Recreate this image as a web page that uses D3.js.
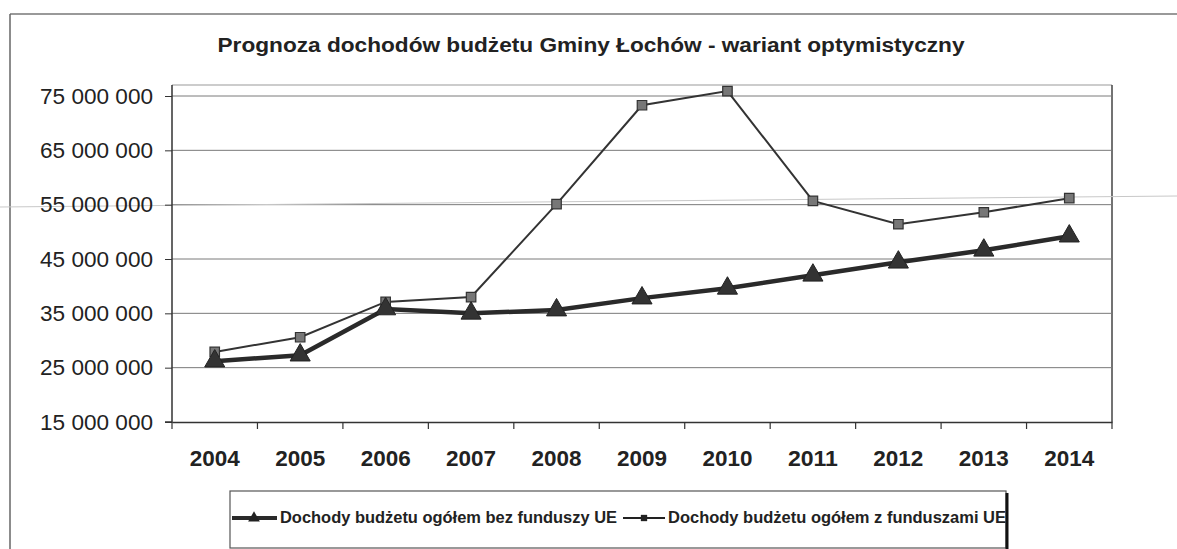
<!DOCTYPE html>
<html><head><meta charset="utf-8">
<script src="https://cdn.jsdelivr.net/npm/d3@7"></script>
<style>html,body{margin:0;padding:0;background:#fff;}</style>
</head><body>
<svg id="c" width="1177" height="549"></svg>
<script>
const years = ["2004","2005","2006","2007","2008","2009","2010","2011","2012","2013","2014"];
const bezFunduszy = [26200000,27300000,35800000,35000000,35600000,37800000,39600000,42000000,44400000,46600000,49200000];
const zFunduszami = [27900000,30600000,37100000,38000000,55100000,73300000,75900000,55700000,51400000,53600000,56200000];
const yTicks = [15000000,25000000,35000000,45000000,55000000,65000000,75000000];
const seriesNames = ["Dochody budżetu ogółem bez funduszy UE","Dochody budżetu ogółem z funduszami UE"];
const title = "Prognoza dochodów budżetu Gminy Łochów - wariant optymistyczny";

const svg = d3.select("#c");
const font = "Liberation Sans, Arial, sans-serif";
const L = 172, R = 1112, T = 85, B = 422;

const x = d3.scaleBand().domain(years).range([L, R]).padding(0);
const y = d3.scaleLinear().domain([15000000, 75000000]).range([B, 96]);
const cx = d => x(d) + x.bandwidth()/2;
const fmt = v => d3.format(",")(v).replace(/,/g, " ");

// outer chart border
svg.append("line").attr("x1",10).attr("y1",14).attr("x2",1177).attr("y2",14).attr("stroke","#777").attr("stroke-width",1.5);
svg.append("line").attr("x1",10).attr("y1",14).attr("x2",10).attr("y2",549).attr("stroke","#666").attr("stroke-width",1.5);

// title
svg.append("text").attr("x",591).attr("y",52).attr("text-anchor","middle")
  .attr("font-family",font).attr("font-weight","bold").attr("font-size",20).attr("fill","#222")
  .attr("textLength",747).attr("lengthAdjust","spacingAndGlyphs").text(title);

// plot border top / right
svg.append("line").attr("x1",L).attr("y1",T).attr("x2",R).attr("y2",T).attr("stroke","#999").attr("stroke-width",1);
svg.append("line").attr("x1",R).attr("y1",T).attr("x2",R).attr("y2",B).attr("stroke","#444").attr("stroke-width",1.5);

// gridlines
svg.append("g").selectAll("line").data(yTicks.filter(t=>t>15000000)).join("line")
  .attr("x1",L).attr("x2",R).attr("y1",d=>y(d)).attr("y2",d=>y(d))
  .attr("stroke","#7a7a7a").attr("stroke-width",1);

// scan artifact faint line
svg.append("line").attr("x1",0).attr("y1",207).attr("x2",1177).attr("y2",196).attr("stroke","#c8c8c8").attr("stroke-width",1);

// y axis
const yAxis = svg.append("g").attr("transform",`translate(${L},0)`)
  .call(d3.axisLeft(y).tickValues(yTicks).tickFormat(fmt).tickSize(7).tickPadding(12));
yAxis.select(".domain").attr("stroke","#333").attr("stroke-width",1.5).attr("d",`M-7,${B}H0V${T}`);
yAxis.selectAll(".tick line").attr("stroke","#333");
yAxis.selectAll("text").attr("font-family",font).attr("font-size",22).attr("fill","#222")
  .attr("textLength",113).attr("lengthAdjust","spacingAndGlyphs");

// x axis
const xAxis = svg.append("g").attr("transform",`translate(0,${B})`)
  .call(d3.axisBottom(x).tickSize(0).tickPadding(28));
xAxis.select(".domain").attr("stroke","#333").attr("stroke-width",1.5);
xAxis.selectAll("text").attr("font-family",font).attr("font-weight","bold").attr("font-size",22).attr("fill","#222")
  .attr("textLength",50).attr("lengthAdjust","spacingAndGlyphs");
svg.append("g").selectAll("line").data(years.concat(["end"])).join("line")
  .attr("x1",(d,i)=>L+i*x.bandwidth()).attr("x2",(d,i)=>L+i*x.bandwidth())
  .attr("y1",B).attr("y2",B+7).attr("stroke","#333").attr("stroke-width",1.2);

// lines
const line = d3.line().x((d,i)=>cx(years[i])).y(d=>y(d));
svg.append("path").datum(zFunduszami).attr("d",line).attr("fill","none").attr("stroke","#333").attr("stroke-width",2);
svg.append("path").datum(bezFunduszy).attr("d",line).attr("fill","none").attr("stroke","#2a2a2a").attr("stroke-width",4.5);

// markers
const sq = d3.symbol().type(d3.symbolSquare).size(90);
const tri = d3.symbol().type(d3.symbolTriangle).size(175);
svg.append("g").selectAll("path").data(zFunduszami).join("path")
  .attr("transform",(d,i)=>`translate(${cx(years[i])},${y(d)})`).attr("d",sq)
  .attr("fill","#777").attr("stroke","#333").attr("stroke-width",1.2);
svg.append("g").selectAll("path").data(bezFunduszy).join("path")
  .attr("transform",(d,i)=>`translate(${cx(years[i])},${y(d)})`).attr("d",tri)
  .attr("fill","#333").attr("stroke","#222").attr("stroke-width",1);

// legend
const lg = svg.append("g");
lg.append("rect").attr("x",230).attr("y",491).attr("width",776).attr("height",57)
  .attr("fill","#fff").attr("stroke","#555").attr("stroke-width",1.2);
lg.append("line").attr("x1",1007).attr("y1",493).attr("x2",1007).attr("y2",549).attr("stroke","#111").attr("stroke-width",3);
const ly = 518;
lg.append("line").attr("x1",232).attr("x2",277).attr("y1",ly).attr("y2",ly).attr("stroke","#2a2a2a").attr("stroke-width",4);
lg.append("path").attr("transform",`translate(254,${ly})`).attr("d",d3.symbol().type(d3.symbolTriangle).size(60)).attr("fill","#222");
lg.append("text").attr("x",280).attr("y",ly+5).attr("font-family",font).attr("font-weight","bold").attr("font-size",16)
  .attr("fill","#222").attr("textLength",337).attr("lengthAdjust","spacingAndGlyphs").text(seriesNames[0]);
lg.append("line").attr("x1",623).attr("x2",665).attr("y1",ly).attr("y2",ly).attr("stroke","#222").attr("stroke-width",2);
lg.append("path").attr("transform",`translate(644,${ly})`).attr("d",d3.symbol().type(d3.symbolSquare).size(40)).attr("fill","#222");
lg.append("text").attr("x",668).attr("y",ly+5).attr("font-family",font).attr("font-weight","bold").attr("font-size",16)
  .attr("fill","#222").attr("textLength",338).attr("lengthAdjust","spacingAndGlyphs").text(seriesNames[1]);
</script>
</body></html>
